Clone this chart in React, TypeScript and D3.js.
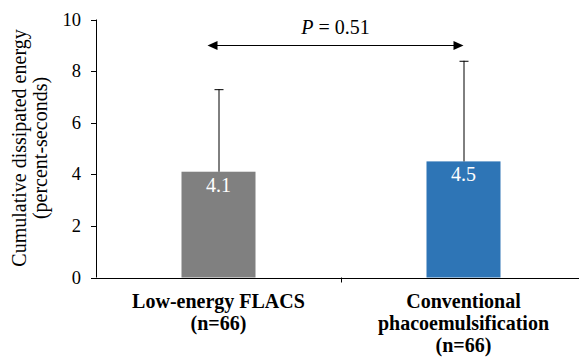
import * as React from 'react';
import * as d3 from 'd3';

const groups = ['Low-energy FLACS', 'Conventional phacoemulsification'];
const groupLabels = [['Low-energy FLACS', '(n=66)'], ['Conventional', 'phacoemulsification', '(n=66)']];
const means = [4.1, 4.5];
const upperErrors = [3.2, 3.9];
const barColors = ['#808080', '#2E75B6'];
const yTicks = [0, 2, 4, 6, 8, 10];
const pLabel = '0.51';

const font = 'Liberation Serif';

const App: React.FC = () => {
    const x = d3.scaleBand<string>().domain(groups).range([96, 586]);
    const y = d3.scaleLinear().domain([0, 10]).range([277.5, 19.5]);
    const barW = 74;
    const cx = (g: string) => x(g)! + x.bandwidth() / 2;
    const arrowX1 = cx(groups[0]) - 11;
    const arrowX2 = cx(groups[1]);
    const arrowY = 45.5;

    return (
        <svg width={583} height={360}
            style={{ position: 'absolute', left: 0, top: 0, background: '#fff', fontFamily: font }}>
            {/* bars */}
            {groups.map((g, i) => (
                <rect key={g} x={cx(g) - barW / 2} y={y(means[i])} width={barW}
                    height={y(0) - y(means[i])} fill={barColors[i]} />
            ))}

            {/* error bars */}
            {groups.map((g, i) => {
                const top = y(means[i] + upperErrors[i]);
                return (
                    <g key={g} stroke="#000" strokeWidth={1}>
                        <line x1={cx(g) + 0.5} x2={cx(g) + 0.5} y1={y(means[i])} y2={top} />
                        <line x1={cx(g) - 4} x2={cx(g) + 5} y1={top + 0.5} y2={top + 0.5} />
                    </g>
                );
            })}

            {/* value labels */}
            {groups.map((g, i) => (
                <text key={g} x={cx(g)} y={y(means[i]) + 20} textAnchor="middle"
                    fontSize={20} fill="#fff">{means[i].toFixed(1)}</text>
            ))}

            {/* y axis */}
            <line x1={96.5} x2={96.5} y1={y(10)} y2={y(0)} stroke="#000" />
            {yTicks.map(t => (
                <g key={t}>
                    <line x1={91} x2={96} y1={Math.round(y(t)) + 0.5} y2={Math.round(y(t)) + 0.5} stroke="#000" />
                    <text x={81} y={y(t) + 6} textAnchor="end" fontSize={18.5} fill="#000">{t}</text>
                </g>
            ))}

            {/* x axis */}
            <line x1={96} x2={579} y1={Math.round(y(0)) + 0.5} y2={Math.round(y(0)) + 0.5} stroke="#000" />
            <line x1={x(groups[1])! + 0.5} x2={x(groups[1])! + 0.5} y1={y(0)} y2={y(0) + 5} stroke="#000" />

            {/* category labels */}
            {groups.map((g, i) => (
                <text key={g} textAnchor="middle" fontSize={20} fontWeight="bold" fill="#000">
                    {groupLabels[i].map((line, j) => (
                        <tspan key={j} x={cx(g)} y={308 + j * 22}>{line}</tspan>
                    ))}
                </text>
            ))}

            {/* y title */}
            <text transform="translate(0,148) rotate(-90)" textAnchor="middle" fontSize={20} fill="#000">
                <tspan x={0} y={26}>Cumulative dissipated energy</tspan>
                <tspan x={0} y={47}>(percent-seconds)</tspan>
            </text>

            {/* significance arrow */}
            <line x1={arrowX1 + 8} x2={arrowX2 - 8} y1={arrowY} y2={arrowY} stroke="#000" />
            <path d={`M${arrowX1},${arrowY} l10,-4.5 v9 Z`} fill="#000" />
            <path d={`M${arrowX2},${arrowY} l-10,-4.5 v9 Z`} fill="#000" />
            <text x={(arrowX1 + arrowX2) / 2} y={34} textAnchor="middle" fontSize={20} fill="#000">
                <tspan fontStyle="italic">P</tspan>{` = ${pLabel}`}
            </text>
        </svg>
    );
};

export default App;
